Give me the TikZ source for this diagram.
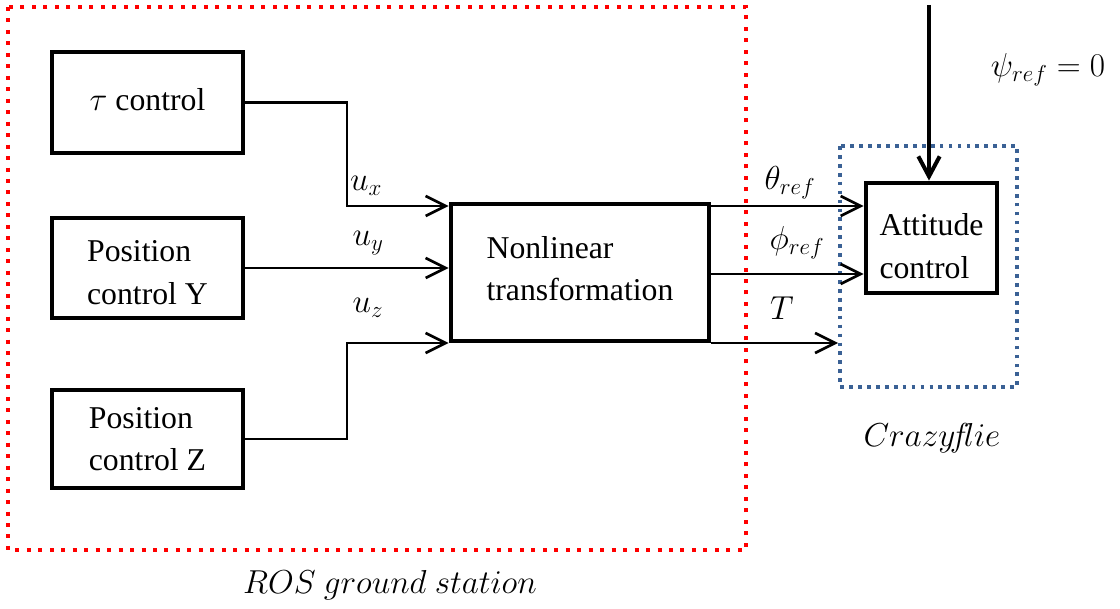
\documentclass[tikz,border=0pt]{standalone}
\usepackage{fontspec}
\setmainfont{Liberation Serif}
\usetikzlibrary{arrows.meta}
\definecolor{rosred}{RGB}{255,0,0}
\definecolor{cfblue}{RGB}{58,97,149}
\tikzset{
  blk/.style={draw, line width=3.6pt, rectangle, inner sep=0pt},
  btxt/.style={font=\fontsize{23.8}{32}\selectfont, align=left, inner sep=0pt},
  conn/.style={line width=2pt, -{Straight Barb[length=15pt,width=15pt,line width=2pt]}},
  lbl/.style={font=\fontsize{25}{28}\selectfont, inner sep=0pt},
  rosbox/.style={draw=rosred, line width=3pt, dash pattern=on 3pt off 5.6pt},
  cfbox/.style={draw=cfblue, line width=2.8pt, dash pattern=on 2.8pt off 3.9pt},
}
\begin{document}
\begin{tikzpicture}[x=0.75pt,y=-0.75pt]
\path[use as bounding box] (0,0) rectangle (1120,609);
% groups
\draw[rosbox] (8,7) rectangle (746,550);
\draw[cfbox] (840,146) rectangle (1017,387);
% blocks
\node[blk, minimum width=143.25pt, minimum height=75.75pt] (tau) at (147.5,102.5) {};
\node[blk, minimum width=143.25pt, minimum height=75pt] (ybox) at (147.5,268) {};
\node[blk, minimum width=143.25pt, minimum height=73.5pt] (zbox) at (147.5,439) {};
\node[blk, minimum width=193.5pt, minimum height=102.75pt] (nl) at (580,272.5) {};
\node[blk, minimum width=98.25pt, minimum height=82.5pt] (att) at (931.5,238) {};
% block texts
\node[btxt] (tautxt) at ([yshift=2pt]tau.center) {$\tau$ control};
\node[btxt] (ytxt) at ([yshift=-3.5pt]ybox.center) {Position\\control Y};
\node[btxt] (ztxt) at ([yshift=0pt]zbox.center) {Position\\control Z};
\node[btxt] (nltxt) at ([yshift=3pt]nl.center) {Nonlinear\\transformation};
\node[btxt] (atttxt) at ([yshift=-6pt]att.center) {Attitude\\control};
% junction coordinates
\coordinate (jx) at (347,206);
\coordinate (jz) at (347,343);
\coordinate (jphi) at (0,274);
\coordinate (tend) at (838,343);
\coordinate (psitop) at (929,5);
% inputs
\draw[conn] (tau.east) -| (jx) -- (jx -| nl.west);
\draw[conn] (ybox.east) -- (ybox.east -| nl.west);
\draw[conn] (zbox.east) -| (jz) -- (jz -| nl.west);
% outputs
\draw[conn] (nl.east |- jx) -- (att.west |- jx);
\draw[conn] (nl.east |- jphi) -- (att.west |- jphi);
\draw[conn] (nl.east |- jz) -- (tend);
\draw[line width=3pt, -{Straight Barb[length=15pt,width=16pt,line width=3pt]}] (psitop) -- (att.north -| psitop);
% labels
\node[lbl] (lux) at (366,186) {$u_x$};
\node[lbl] (luy) at (368,243) {$u_y$};
\node[lbl] (luz) at (368,308) {$u_z$};
\node[lbl] (lth) at (790,183) {$\theta_{ref}$};
\node[lbl] (lph) at (797,243) {$\phi_{ref}$};
\node[lbl] (lT) at (782,308) {$T$};
\node[lbl] (lpsi) at (1048,70) {$\psi_{ref}=0$};
\node[lbl] (lcf) at (932,438) {$Crazy\!f\!lie$};
\node[lbl] (lros) at (390,585) {$ROS\ ground\ station$};
\end{tikzpicture}
\end{document}
